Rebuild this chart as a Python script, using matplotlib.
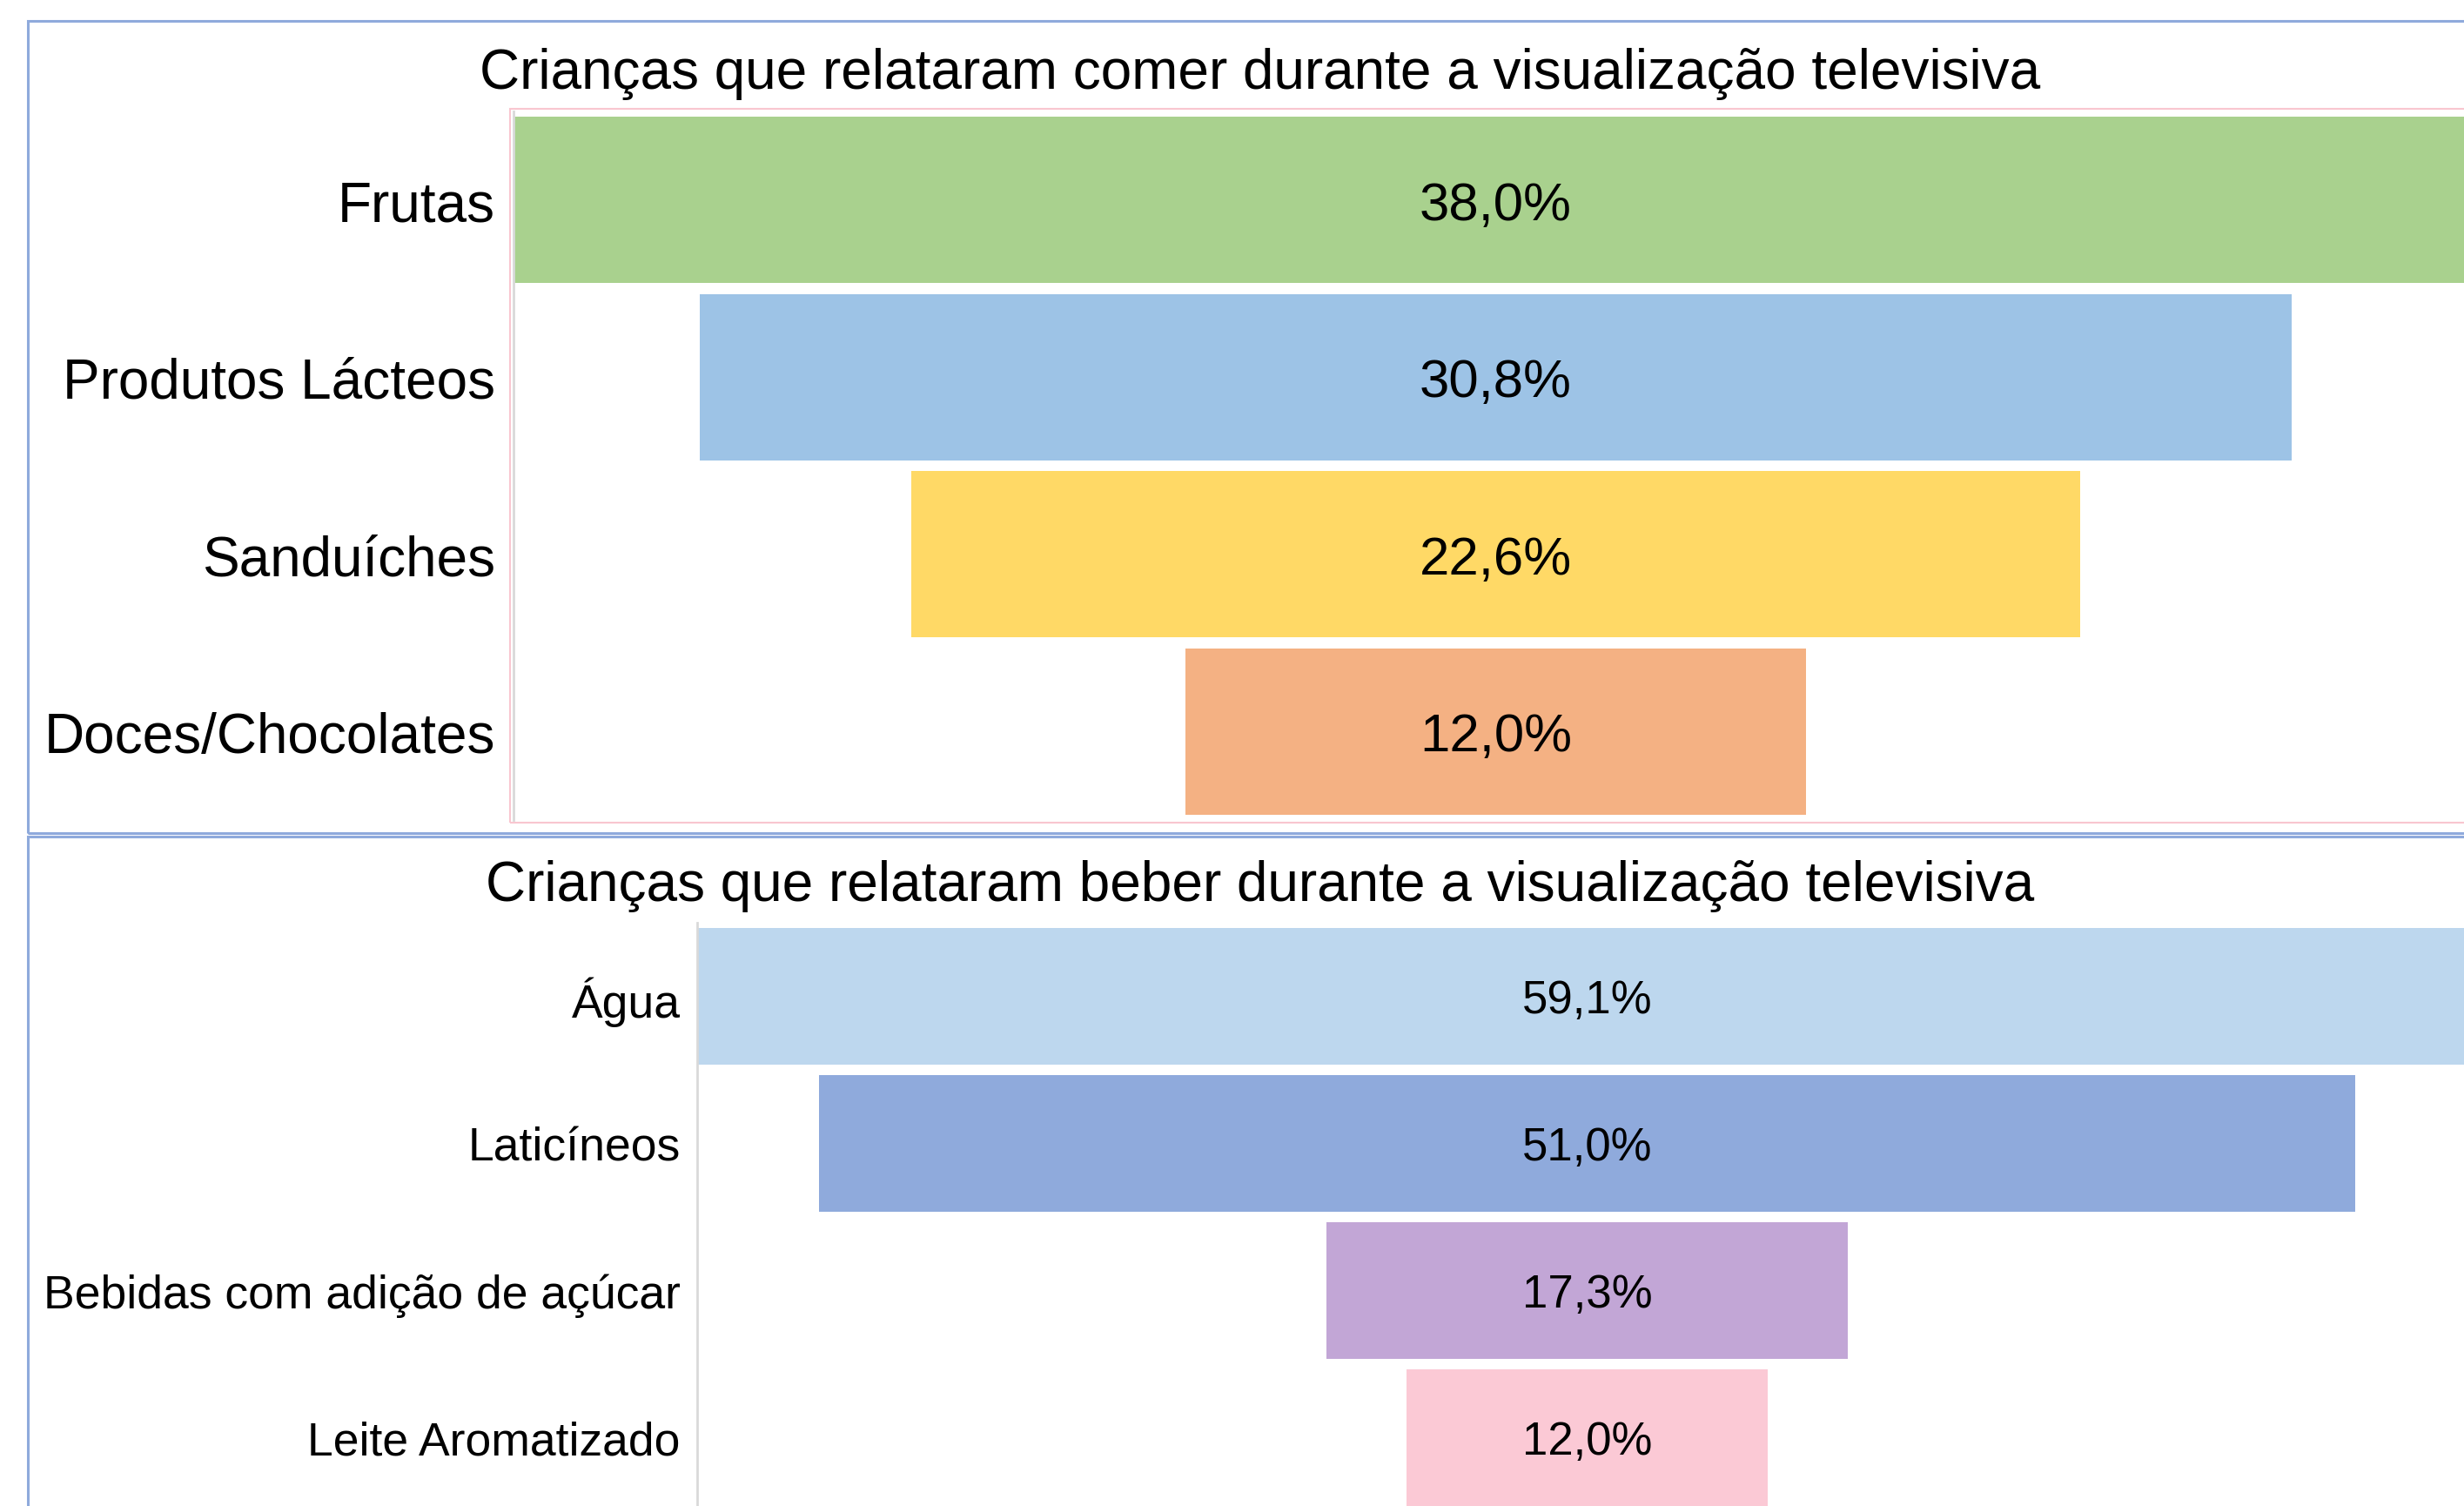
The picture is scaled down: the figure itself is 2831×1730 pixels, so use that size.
import matplotlib
matplotlib.use('Agg')
import matplotlib.pyplot as plt
from matplotlib.patches import Rectangle

plt.rcParams['font.family'] = ['Liberation Sans', 'DejaVu Sans']

# dados
comida = ['Frutas', 'Produtos Lácteos', 'Sanduíches', 'Doces/Chocolates']
comida_pct = [38.0, 30.8, 22.6, 12.0]
comida_cores = ['#A9D18E', '#9DC3E6', '#FFD966', '#F4B183']

bebida = ['Água', 'Laticíneos', 'Bebidas com adição de açúcar', 'Leite Aromatizado']
bebida_pct = [59.1, 51.0, 17.3, 12.0]
bebida_cores = ['#BDD7EE', '#8FAADC', '#C2A6D6', '#FBC9D5']

titulo_comer = 'Crianças que relataram comer durante a visualização televisiva'
titulo_beber = 'Crianças que relataram beber durante a visualização televisiva'

W, H = 2831, 1731
fig = plt.figure(figsize=(W / 100, H / 100), dpi=100)


def box(x, y, w, h):
    # pixel box (from top-left) -> figure fraction
    return [x / W, 1 - (y + h) / H, w / W, h / H]


def moldura(x, y, w, h, cor, lw):
    r = box(x, y, w, h)
    fig.add_artist(Rectangle((r[0], r[1]), r[2], r[3], transform=fig.transFigure,
                             fill=False, ec=cor, lw=lw))


def funil(ax, cats, vals, cores, fs_cat, fs_val, pad, alt):
    y = list(range(len(cats)))
    ax.barh(y, vals, left=[-v / 2 for v in vals], height=alt, color=cores)
    for i, v in enumerate(vals):
        # baseline abaixo do centro para centrar a altura das maiusculas
        ax.annotate(f'{v:.1f}%'.replace('.', ','), (0, i),
                    xytext=(0, -0.358 * fs_val), textcoords='offset points',
                    ha='center', va='baseline', fontsize=fs_val)
    ax.set_yticks(y, cats, fontsize=fs_cat)
    ax.tick_params(axis='y', length=0, pad=pad)
    ax.set_ylim(len(cats) - 0.5, -0.5)
    m = max(vals) / 2
    ax.set_xlim(-m, m)
    ax.set_xticks([])
    for s in ['top', 'right', 'bottom']:
        ax.spines[s].set_visible(False)
    ax.spines['left'].set_color('#D9D9D9')
    ax.spines['left'].set_linewidth(2)
    ax.patch.set_alpha(0)


# molduras dos graficos
moldura(32, 25, 2900, 933, '#8FAADC', 2.2)
moldura(32, 962, 2900, 900, '#8FAADC', 2.2)
moldura(586, 126, 2400, 820, '#F9C6D0', 1.5)

ax1 = fig.add_axes(box(590, 129, 2257, 814))
funil(ax1, comida, comida_pct, comida_cores, 46, 44.5, 15, 0.94)

ax2 = fig.add_axes(box(801, 1061, 2045, 676))
funil(ax2, bebida, bebida_pct, bebida_cores, 38.5, 38, 14, 0.93)

fig.text(1448 / W, 1 - 102 / H, titulo_comer, ha='center', va='baseline', fontsize=46)
fig.text(1448 / W, 1 - 1035 / H, titulo_beber, ha='center', va='baseline', fontsize=46)

fig.savefig('out.png', dpi=100)
